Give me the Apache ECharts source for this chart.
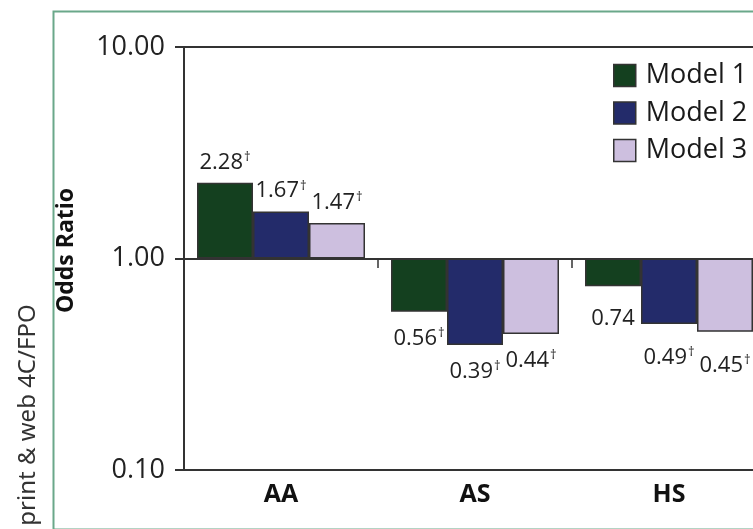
<!DOCTYPE html>
<html>
<head>
<meta charset="utf-8">
<style>
  html, body { margin: 0; padding: 0; background: #ffffff; overflow: hidden; }
  #chart { width: 766px; height: 529px; }
</style>
<script src="https://cdn.jsdelivr.net/npm/echarts@6/dist/echarts.min.js"></script>
</head>
<body>
<div id="chart"></div>
<script>
// Odds ratios by group for three nested models (log scale, baseline 1)
const categories = ['AA', 'AS', 'HS'];
const modelNames = ['Model 1', 'Model 2', 'Model 3'];
const model1 = [2.28, 0.56, 0.74];
const model2 = [1.67, 0.39, 0.49];
const model3 = [1.47, 0.44, 0.45];
// whether each estimate carries the dagger mark
const model1Sig = [true, true, false];
const model2Sig = [true, true, true];
const model3Sig = [true, true, true];
const yTicks = [0.1, 1, 10];

const seriesValues = [model1, model2, model3];
const seriesSig = [model1Sig, model2Sig, model3Sig];
const colors = ['#14401f', '#232b6a', '#cdbfdf'];
const FONT = "'Open Sans', 'Noto Sans', sans-serif";
// label gap below the downward bars, per group
const belowGap = [10, 15, 22];

const chart = echarts.init(document.getElementById('chart'), null, { renderer: 'canvas' });

const series = seriesValues.map((vals, si) => ({
  name: modelNames[si],
  type: 'bar',
  xAxisIndex: 0,
  yAxisIndex: 0,
  barWidth: 56,
  barGap: '0%',
  itemStyle: { color: colors[si], borderColor: '#333333', borderWidth: 1.5 },
  label: {
    show: true,
    position: 'outside',
    distance: 9,
    fontFamily: FONT,
    fontSize: 22,
    color: '#222222',
    formatter: (p) => p.value.toFixed(2) + (seriesSig[si][p.dataIndex] ? '{d|\u2020}' : ''),
    rich: {
      d: { fontFamily: FONT, fontSize: 13, color: '#222222', verticalAlign: 'top', padding: [0, 0, 10, 1] }
    }
  },
  emphasis: { disabled: true },
  data: vals.map((v, i) => (v < 1 ? { value: v, label: { distance: belowGap[i] } } : v))
}));

// short boundary ticks along the 1.00 baseline
series.push({
  type: 'bar',
  xAxisIndex: 1,
  yAxisIndex: 0,
  data: [],
  silent: true
});

const option = {
  animation: false,
  textStyle: { fontFamily: FONT },
  legend: {
    data: modelNames,
    orient: 'vertical',
    left: 613,
    top: 62,
    padding: 0,
    itemWidth: 22,
    itemHeight: 22,
    itemGap: 10.5,
    icon: 'rect',
    selectedMode: false,
    itemStyle: { borderColor: '#333333', borderWidth: 1.5 },
    textStyle: { fontFamily: FONT, fontSize: 27, color: '#1a1a1a', padding: [0, 0, 0, 5] }
  },
  grid: { left: 184, top: 47, right: 0, bottom: 59, containLabel: false },
  xAxis: [
    {
      type: 'category',
      data: categories,
      position: 'bottom',
      axisLine: { show: false },
      axisTick: { show: false },
      axisLabel: { fontFamily: FONT, fontSize: 25, fontWeight: 'bold', color: '#111111', margin: 12 },
      splitLine: { show: false }
    },
    {
      type: 'category',
      data: categories,
      position: 'bottom',
      offset: -212,
      axisLine: { show: false },
      axisTick: { show: true, length: 10, lineStyle: { color: '#333333', width: 1.5 } },
      axisLabel: { show: false },
      splitLine: { show: false }
    }
  ],
  yAxis: {
    type: 'log',
    logBase: 10,
    min: yTicks[0],
    max: yTicks[yTicks.length - 1],
    name: 'Odds Ratio',
    nameLocation: 'middle',
    nameGap: 106,
    nameTextStyle: { fontFamily: FONT, fontSize: 23, fontWeight: 'bold', color: '#111111', padding: [0, 0, 0, 16] },
    axisLine: { show: true, lineStyle: { color: '#333333', width: 2 } },
    axisTick: { show: true, length: 9, lineStyle: { color: '#333333', width: 2 } },
    axisLabel: {
      fontFamily: FONT, fontSize: 27, color: '#222222', margin: 19,
      formatter: (v) => v.toFixed(2)
    },
    splitLine: { show: true, lineStyle: { color: '#333333', width: 2 } }
  },
  graphic: [
    {
      type: 'rect',
      left: 51, top: 9,
      shape: { width: 760, height: 518 },
      style: { fill: 'none', stroke: '#6aa88a', lineWidth: 2 },
      silent: true,
      z: -1
    },
    {
      type: 'text',
      x: 28, y: 415,
      rotation: Math.PI / 2,
      style: {
        text: 'print & web 4C/FPO',
        font: "24px 'Noto Sans', sans-serif",
        fill: '#333333',
        textAlign: 'center',
        textVerticalAlign: 'middle'
      },
      silent: true
    }
  ],
  series: series
};

chart.setOption(option);
</script>
</body>
</html>
